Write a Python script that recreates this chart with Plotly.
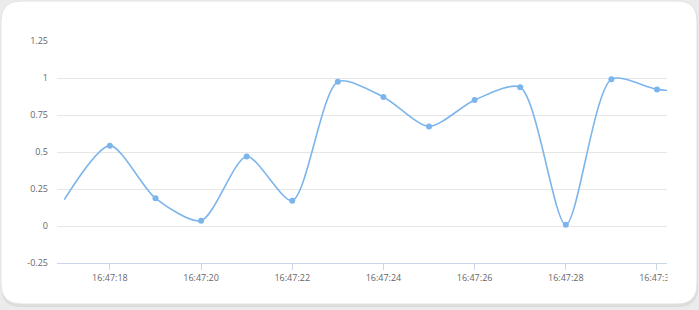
import plotly.graph_objects as go

# ---- data ----
times = ["2024-01-01 16:47:%02d" % s for s in range(17, 32)]
values = [0.178, 0.543, 0.187, 0.036, 0.470, 0.171, 0.975, 0.872,
          0.673, 0.851, 0.937, 0.009, 0.991, 0.923, 0.90]
y_tick_vals = [-0.25, 0, 0.25, 0.5, 0.75, 1, 1.25]
y_tick_text = ["-0.25", "0", "0.25", "0.5", "0.75", "1", "1.25"]

W, H = 699, 310
L, R, T, B = 57, 32, 41, 47
PW, PH = W - L - R, H - T - B

def xp(px):
    return (px - L) / PW

def yp(py):
    return (H - B - py) / PH

# rounded card path in paper coords
x0, x1, y0, y1, r = 1, 697, 1, 304, 20
def P(px, py):
    return "%.5f,%.5f" % (xp(px), yp(py))
def card_path(x0, y0, x1, y1, r):
    return ("M " + P(x0 + r, y0) + " L " + P(x1 - r, y0) +
            " Q " + P(x1, y0) + " " + P(x1, y0 + r) +
            " L " + P(x1, y1 - r) +
            " Q " + P(x1, y1) + " " + P(x1 - r, y1) +
            " L " + P(x0 + r, y1) +
            " Q " + P(x0, y1) + " " + P(x0, y1 - r) +
            " L " + P(x0, y0 + r) +
            " Q " + P(x0, y0) + " " + P(x0 + r, y0) + " Z")

color = "#7cb5ec"
fig = go.Figure()
fig.add_trace(go.Scatter(x=times, y=values, mode="lines",
                         line=dict(color=color, width=1.6, shape="spline", smoothing=0.75),
                         hoverinfo="skip", showlegend=False))
fig.add_trace(go.Scatter(x=times[1:-1], y=values[1:-1], mode="markers",
                         marker=dict(color=color, size=6),
                         showlegend=False))

fig.update_layout(
    width=W, height=H,
    margin=dict(l=L, r=R, t=T, b=B),
    paper_bgcolor="#ebebeb",
    plot_bgcolor="rgba(0,0,0,0)",
    font=dict(family="Open Sans, Liberation Sans, sans-serif", size=9, color="#666666"),
    xaxis=dict(
        type="date",
        range=["2024-01-01 16:47:16.84", "2024-01-01 16:47:30.22"],
        tick0="2024-01-01 16:47:18", dtick=2000, tickformat="%H:%M:%S",
        showgrid=False, zeroline=False,
        showline=True, linecolor="#ccd6eb", linewidth=1,
        ticks="outside", ticklen=6, tickcolor="#ccd6eb", tickwidth=1,
        tickfont=dict(size=9, color="#666666"),
    ),
    yaxis=dict(
        range=[-0.25, 1.25], tickvals=y_tick_vals, ticktext=y_tick_text,
        showgrid=True, gridcolor="#e6e6e6", gridwidth=1,
        zeroline=False, showline=False, ticks="",
        ticklabelstandoff=8,
        tickfont=dict(size=9, color="#666666"),
    ),
    shapes=[
        dict(type="path", xref="paper", yref="paper",
             path=card_path(x0, y0 + 2, x1 + 1, y1 + 3, r),
             fillcolor="#dcdcdc", line=dict(width=0), layer="below"),
        dict(type="path", xref="paper", yref="paper", path=card_path(x0, y0, x1, y1, r),
             fillcolor="#ffffff", line=dict(color="#e3e3e3", width=1), layer="below"),
        dict(type="rect", xref="paper", yref="paper",
             x0=xp(667.5), x1=xp(690), y0=yp(266), y1=yp(285),
             fillcolor="#ffffff", line=dict(width=0), layer="above"),
    ],
)

fig.write_html("out.html")
